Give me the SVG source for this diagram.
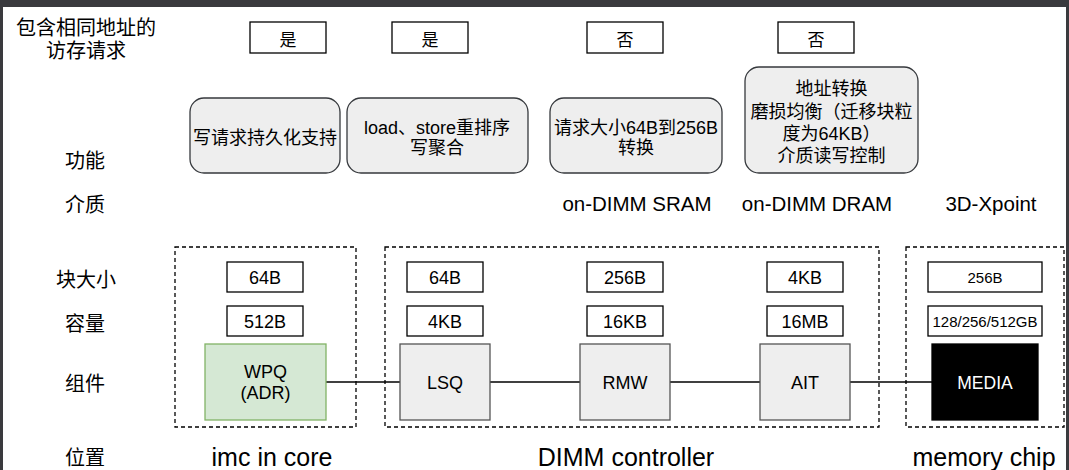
<svg xmlns="http://www.w3.org/2000/svg" width="1069" height="470" viewBox="0 0 1069 470">
<style>
text{font-family:"Liberation Sans","Noto Sans CJK SC",sans-serif;fill:#000;text-anchor:middle}
.lbl{font-size:20px}
.yn{font-size:17px}
.fn{font-size:18px}
.val{font-size:18px}
.sm{font-size:15px}
.med{font-size:20.5px}
.loc{font-size:25px}
.box{fill:#fff;stroke:#000;stroke-width:1.3}
.rbox{fill:#eeeeee;stroke:#36393d;stroke-width:1.3}
.comp{fill:#eeeeee;stroke:#555;stroke-width:1.3}
.dash{fill:none;stroke:#000;stroke-width:1.3;stroke-dasharray:4 3}
.conn{stroke:#000;stroke-width:1.3;fill:none}
</style>
<rect x="0" y="0" width="1069" height="470" fill="#3a3a3e"/>
<rect x="3" y="7" width="1063" height="463" fill="#fff"/>

<g id="row-labels">
<text class="lbl" x="86" y="35">包含相同地址的</text>
<text class="lbl" x="86" y="57.5">访存请求</text>
<text class="lbl" x="85" y="167.5">功能</text>
<text class="lbl" x="85" y="211.5">介质</text>
<text class="lbl" x="86" y="286.5">块大小</text>
<text class="lbl" x="85" y="330.5">容量</text>
<text class="lbl" x="85" y="390.5">组件</text>
<text class="lbl" x="85" y="464.5">位置</text>
</g>

<g id="same-addr">
<g id="yn1"><rect class="box" x="250" y="22" width="76" height="31"/><text class="yn" x="288" y="45.5">是</text></g>
<g id="yn2"><rect class="box" x="392" y="22" width="76" height="31"/><text class="yn" x="430" y="45.5">是</text></g>
<g id="yn3"><rect class="box" x="587" y="22" width="76" height="31"/><text class="yn" x="625" y="45.5">否</text></g>
<g id="yn4"><rect class="box" x="778" y="22" width="76" height="31"/><text class="yn" x="816" y="45.5">否</text></g>
</g>

<g id="functions">
<g id="fn1"><rect class="rbox" x="190" y="98" width="150" height="75" rx="14"/><text class="fn" x="265" y="143.5">写请求持久化支持</text></g>
<g id="fn2"><rect class="rbox" x="347" y="98" width="181" height="75" rx="14"/><text class="fn" x="437" y="133.5">load、store重排序</text><text class="fn" x="437" y="153.5">写聚合</text></g>
<g id="fn3"><rect class="rbox" x="550" y="98" width="172" height="75" rx="14"/><text class="fn" x="636" y="133.5">请求大小64B到256B</text><text class="fn" x="636" y="153.5">转换</text></g>
<g id="fn4"><rect class="rbox" x="745" y="67" width="173" height="106" rx="14"/><text class="fn" x="831.5" y="95">地址转换</text><text class="fn" x="831.5" y="117.5">磨损均衡（迁移块粒</text><text class="fn" x="831.5" y="139.5">度为64KB）</text><text class="fn" x="831.5" y="161.5">介质读写控制</text></g>
</g>

<g id="media">
<text class="med" x="637" y="211">on-DIMM SRAM</text>
<text class="med" x="817" y="211">on-DIMM DRAM</text>
<text class="med" x="991" y="211">3D-Xpoint</text>
</g>

<g id="groups">
<rect id="grp-imc" class="dash" x="175" y="247" width="181" height="180"/>
<rect id="grp-dimm" class="dash" x="385" y="247" width="494" height="180"/>
<rect id="grp-chip" class="dash" x="906" y="247" width="158" height="180"/>
</g>

<g id="connectors">
<line class="conn" x1="326" y1="382" x2="400" y2="382"/>
<line class="conn" x1="490" y1="382" x2="580" y2="382"/>
<line class="conn" x1="670" y1="382" x2="760" y2="382"/>
<line class="conn" x1="850" y1="382" x2="932" y2="382"/>
</g>

<g id="col-wpq">
<rect class="box" x="227" y="262" width="76" height="30"/><text class="val" x="265" y="283.5">64B</text>
<rect class="box" x="227" y="306" width="76" height="30"/><text class="val" x="265" y="327.5">512B</text>
<g id="WPQ"><rect x="205" y="344" width="121" height="76" fill="#d5e8d4" stroke="#82b366" stroke-width="1.3"/><text class="val" x="265.5" y="378">WPQ</text><text class="val" x="265.5" y="399">(ADR)</text></g>
</g>

<g id="col-lsq">
<rect class="box" x="407" y="262" width="76" height="30"/><text class="val" x="445" y="283.5">64B</text>
<rect class="box" x="407" y="306" width="76" height="30"/><text class="val" x="445" y="327.5">4KB</text>
<g id="LSQ"><rect class="comp" x="400" y="344" width="90" height="76"/><text class="val" x="445" y="389">LSQ</text></g>
</g>

<g id="col-rmw">
<rect class="box" x="587" y="262" width="76" height="30"/><text class="val" x="625" y="283.5">256B</text>
<rect class="box" x="587" y="306" width="76" height="30"/><text class="val" x="625" y="327.5">16KB</text>
<g id="RMW"><rect class="comp" x="580" y="344" width="90" height="76"/><text class="val" x="625" y="389">RMW</text></g>
</g>

<g id="col-ait">
<rect class="box" x="767" y="262" width="76" height="30"/><text class="val" x="805" y="283.5">4KB</text>
<rect class="box" x="767" y="306" width="76" height="30"/><text class="val" x="805" y="327.5">16MB</text>
<g id="AIT"><rect class="comp" x="760" y="344" width="90" height="76"/><text class="val" x="805" y="389">AIT</text></g>
</g>

<g id="col-media">
<rect class="box" x="928" y="262" width="114" height="30"/><text class="sm" x="985" y="282.5">256B</text>
<rect class="box" x="928" y="306" width="114" height="30"/><text class="sm" x="985" y="326.5">128/256/512GB</text>
<g id="MEDIA"><rect x="932" y="344" width="106" height="76" fill="#000" stroke="#000" stroke-width="1.3"/><text x="985" y="388.5" style="font-size:17.5px;fill:#fff">MEDIA</text></g>
</g>

<g id="locations">
<text class="loc" x="272" y="466">imc in core</text>
<text class="loc" x="626" y="466">DIMM controller</text>
<text class="loc" x="984" y="466">memory chip</text>
</g>
</svg>
